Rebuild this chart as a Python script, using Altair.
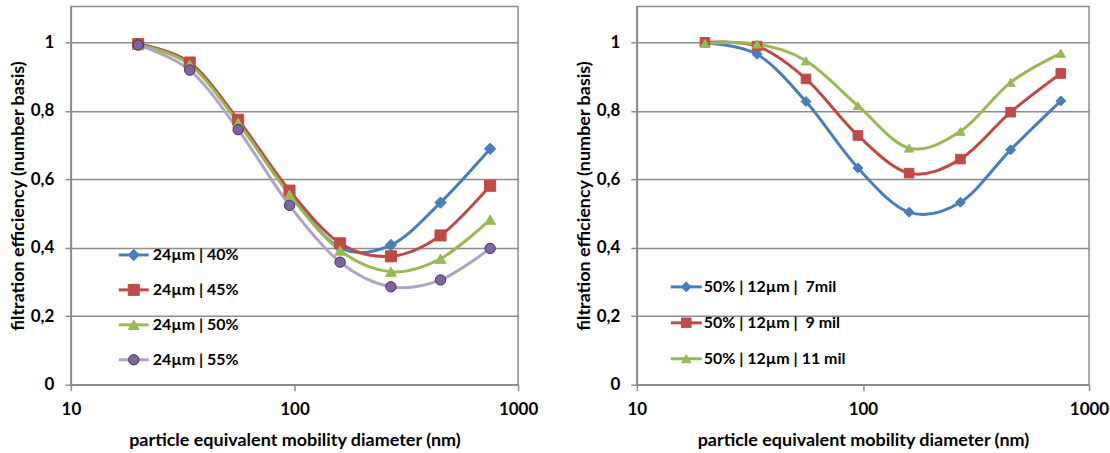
import altair as alt
import pandas as pd

# particle mobility diameters (nm) shared by all series
diameters = [20, 34, 56, 95, 160, 270, 450, 750]

# left panel: 24 µm fibres at different porosities
left_series = ["24µm | 40%", "24µm | 45%", "24µm | 50%", "24µm | 55%"]
eff_24_40 = [0.995, 0.940, 0.770, 0.560, 0.400, 0.408, 0.532, 0.689]
eff_24_45 = [0.995, 0.941, 0.774, 0.567, 0.413, 0.375, 0.436, 0.581]
eff_24_50 = [0.993, 0.935, 0.765, 0.555, 0.392, 0.330, 0.368, 0.482]
eff_24_55 = [0.992, 0.919, 0.745, 0.524, 0.358, 0.286, 0.306, 0.398]

# right panel: 50 % porosity, 12 µm fibres at different thicknesses
right_series = ["50% | 12µm | \u00a07mil", "50% | 12µm | \u00a09 mil", "50% | 12µm | 11 mil"]
eff_12_7 = [0.998, 0.965, 0.827, 0.633, 0.504, 0.533, 0.686, 0.829]
eff_12_9 = [1.000, 0.989, 0.893, 0.728, 0.618, 0.659, 0.796, 0.909]
eff_12_11 = [0.997, 0.995, 0.946, 0.815, 0.691, 0.740, 0.883, 0.968]

y_ticks = [0, 0.2, 0.4, 0.6, 0.8, 1]
x_ticks = [10, 100, 1000]

FONT = "Lato"
GRID = "#8C8C8C"

left_style = dict(
    line=["#4A7EBB", "#BE4B48", "#98B954", "#B3A2C7"],
    fill=["#4A7EBB", "#BE4B48", "#98B954", "#7F64A2"],
    stroke=["#4A7EBB", "#BE4B48", "#98B954", "#3F3151"],
    shape=["diamond", "square", "triangle-up", "circle"],
    size=[130, 85, 140, 130],
)
right_style = dict(
    line=["#4A7EBB", "#BE4B48", "#98B954"],
    fill=["#4A7EBB", "#BE4B48", "#98B954"],
    stroke=["#4A7EBB", "#BE4B48", "#98B954"],
    shape=["diamond", "square", "triangle-up"],
    size=[130, 85, 140],
)


def long_table(names, columns):
    rows = []
    for name, vals in zip(names, columns):
        for d, v in zip(diameters, vals):
            rows.append({"series": name, "d": d, "eff": v})
    return pd.DataFrame(rows)


def panel(names, columns, style, width, legend_x, legend_rows):
    df = long_table(names, columns)
    leg = pd.DataFrame({"series": names})

    x = alt.X(
        "d:Q",
        scale=alt.Scale(type="log", domain=[10, 1000], nice=False),
        axis=alt.Axis(
            values=x_ticks, format="d", grid=False, labelFlush=False,
            title="particle equivalent mobility diameter (nm)",
            titleY=56, titleBaseline="middle",
        ),
    )
    y_scale = alt.Scale(domain=[0, 1.105], nice=False, zero=True)
    y_axis = alt.Axis(
        values=y_ticks, grid=True, labelFlush=False,
        labelExpr="replace(format(datum.value, '~g'), '.', ',')",
        title="filtration efficiency (number basis)",
        titleX=-52, titleBaseline="middle",
    )

    line_color = alt.Color("series:N", scale=alt.Scale(domain=names, range=style["line"]), legend=None)
    fill = alt.Fill("series:N", scale=alt.Scale(domain=names, range=style["fill"]), legend=None)
    stroke = alt.Stroke("series:N", scale=alt.Scale(domain=names, range=style["stroke"]), legend=None)
    shape = alt.Shape("series:N", scale=alt.Scale(domain=names, range=style["shape"]), legend=None)
    size = alt.Size("series:N", scale=alt.Scale(domain=names, range=style["size"]), legend=None)

    base = alt.Chart(df)
    lines = base.mark_line(interpolate="cardinal", strokeWidth=3).encode(
        x=x, y=alt.Y("eff:Q", scale=y_scale, axis=y_axis), color=line_color,
        detail="series:N",
    )
    points = base.mark_point(filled=True, opacity=1, strokeWidth=1).encode(
        x=x, y=alt.Y("eff:Q", scale=y_scale, axis=None),
        fill=fill, stroke=stroke, shape=shape, size=size,
    )

    leg_y = alt.Y(
        "series:N", sort=names, axis=None,
        scale=alt.Scale(type="point", domain=names, range=legend_rows, padding=0),
    )
    lx0, lx1, tx = legend_x
    leg_base = alt.Chart(leg)
    leg_line = leg_base.mark_rule(strokeWidth=3).encode(
        x=alt.value(lx0), x2=alt.value(lx1), y=leg_y, color=line_color,
    )
    leg_pt = leg_base.mark_point(filled=True, opacity=1, strokeWidth=1).encode(
        x=alt.value((lx0 + lx1) / 2), y=leg_y,
        fill=fill, stroke=stroke, shape=shape, size=size,
    )
    leg_txt = leg_base.mark_text(
        align="left", baseline="middle", font=FONT, fontWeight="bold", fontSize=16,
        color="black",
    ).encode(x=alt.value(tx), y=leg_y, text="series:N")

    return alt.layer(lines, points, leg_line, leg_pt, leg_txt).resolve_scale(
        y="independent"
    ).properties(width=width, height=379)


left = panel(
    left_series, [eff_24_40, eff_24_45, eff_24_50, eff_24_55], left_style,
    448, (48, 78, 82), [249, 354],
)
right = panel(
    right_series, [eff_12_7, eff_12_9, eff_12_11], right_style,
    453, (34, 65, 67), [281, 353],
)

chart = alt.hconcat(left, right, spacing=119, bounds="flush").properties(
    padding={"left": 9, "top": 5, "right": 0, "bottom": 0},
    background="white",
).configure_view(
    stroke=GRID, strokeWidth=1.5,
).configure_axis(
    domainColor=GRID, domainWidth=1.5,
    tickColor=GRID, tickWidth=1.5, tickSize=6,
    gridColor=GRID, gridWidth=1.5,
    labelFont=FONT, labelFontSize=17, labelFontWeight="bold", labelColor="black",
    titleFont=FONT, titleFontSize=18, titleFontWeight="bold", titleColor="black",
    labelPadding=11,
)

chart.save("out.html", embed_options={"renderer": "svg", "actions": False})
